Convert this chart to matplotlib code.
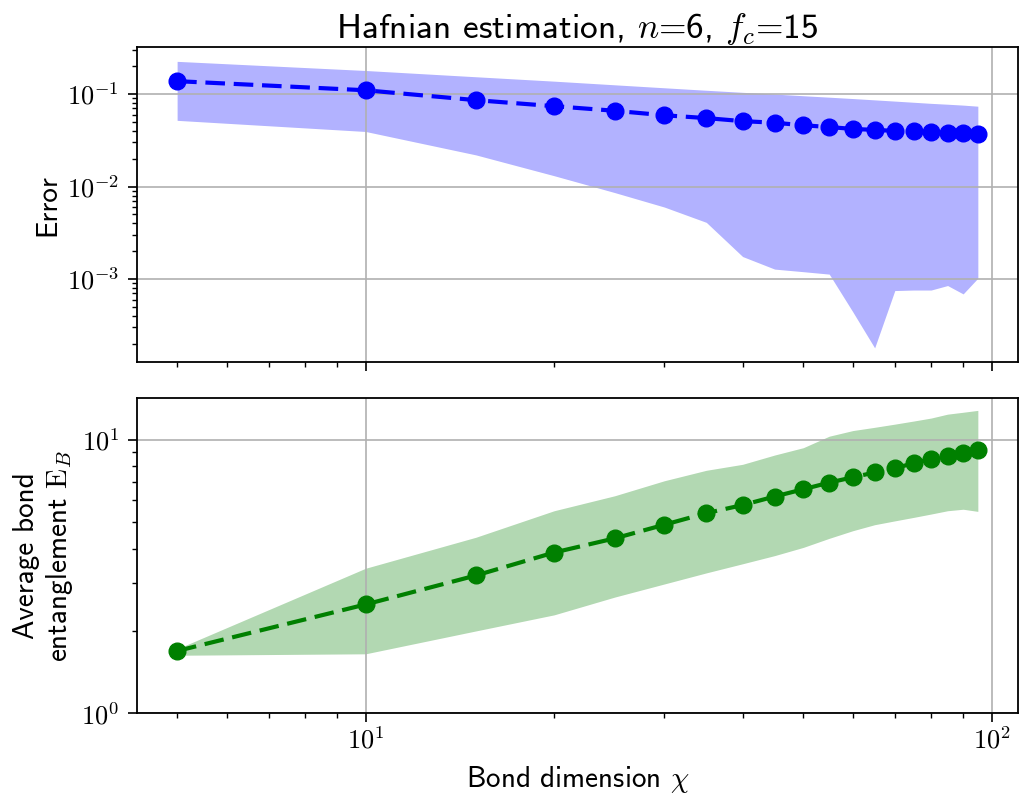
import numpy as np
import matplotlib
matplotlib.use('Agg')
import matplotlib.pyplot as plt
from matplotlib.ticker import FuncFormatter, NullFormatter

plt.rcParams['mathtext.fontset'] = 'cm'
plt.rcParams['font.family'] = ['cmss10', 'DejaVu Sans']
plt.rcParams['axes.formatter.use_mathtext'] = True
plt.rcParams['axes.unicode_minus'] = False

chi = [5, 10, 15, 20, 25, 30, 35, 40, 45, 50, 55, 60, 65, 70, 75, 80, 85, 90, 95]

err_mean = [0.138, 0.110, 0.086, 0.074, 0.066, 0.059, 0.055, 0.051, 0.049, 0.046,
            0.044, 0.042, 0.041, 0.040, 0.0395, 0.039, 0.038, 0.0375, 0.037]
err_hi = [0.226, 0.180, 0.154, 0.138, 0.126, 0.117, 0.110, 0.1045, 0.100, 0.096,
          0.0926, 0.0895, 0.0866, 0.084, 0.0816, 0.0794, 0.0777, 0.076, 0.074]
err_lo = [0.052, 0.0394, 0.022, 0.0131, 0.0086, 0.0060, 0.0041, 0.00175, 0.00128, 0.0012,
          0.00113, 0.00044, 0.00018, 0.00075, 0.00076, 0.00076, 0.00085, 0.00069, 0.00102]

ent_mean = [1.69, 2.50, 3.19, 3.87, 4.36, 4.89, 5.39, 5.77, 6.20, 6.59,
            6.97, 7.29, 7.59, 7.87, 8.20, 8.51, 8.75, 8.97, 9.15]
ent_hi = [1.72, 3.39, 4.40, 5.50, 6.24, 7.08, 7.73, 8.13, 8.79, 9.35,
          10.3, 10.8, 11.1, 11.4, 11.7, 12.0, 12.4, 12.6, 12.8]
ent_lo = [1.63, 1.65, 2.00, 2.29, 2.66, 2.97, 3.26, 3.52, 3.77, 4.04,
          4.36, 4.65, 4.89, 5.05, 5.20, 5.35, 5.50, 5.57, 5.47]


def pow10(v, pos):
    return r'$10^{%d}$' % int(round(np.log10(v)))


fig, (ax1, ax2) = plt.subplots(2, 1, sharex=True, figsize=(10.23, 7.97), dpi=100)
fig.subplots_adjust(left=0.134, right=0.995, top=0.941, bottom=0.105, hspace=0.114)

ax1.fill_between(chi, err_lo, err_hi, color='b', alpha=0.3, lw=0)
ax1.plot(chi, err_mean, 'o--', color='b', markersize=12, lw=3, dashes=(4.7, 2.1))
ax1.set_xscale('log')
ax1.set_yscale('log')
ax1.set_ylabel('Error', fontsize=21)
ax1.set_title(r'Hafnian estimation, $n$=6, $f_c$=15', fontsize=25.5)

ax2.fill_between(chi, ent_lo, ent_hi, color='g', alpha=0.3, lw=0)
ax2.plot(chi, ent_mean, 'o--', color='g', markersize=12, lw=3, dashes=(4.7, 2.1))
ax2.set_yscale('log')
ax2.set_ylim(bottom=1)
ax2.set_ylabel('Average bond\nentanglement $\\mathrm{E}_B$', fontsize=21)
ax2.set_xlabel(r'Bond dimension $\chi$', fontsize=21, labelpad=7)

for ax in (ax1, ax2):
    ax.grid(True, which='major', color='#b0b0b0', lw=1.2)
    ax.yaxis.set_major_formatter(FuncFormatter(pow10))
    ax.yaxis.set_minor_formatter(NullFormatter())
    ax.tick_params(labelsize=19, width=1.2)
    ax.tick_params(which='major', length=6.5)
    ax.tick_params(axis='y', which='major', pad=6.5)
    ax.tick_params(which='minor', length=3.5, width=1.0)
    for s in ax.spines.values():
        s.set_linewidth(1.3)
ax2.xaxis.set_major_formatter(FuncFormatter(pow10))
ax2.xaxis.set_minor_formatter(NullFormatter())

fig.savefig('out.png', dpi=100)
